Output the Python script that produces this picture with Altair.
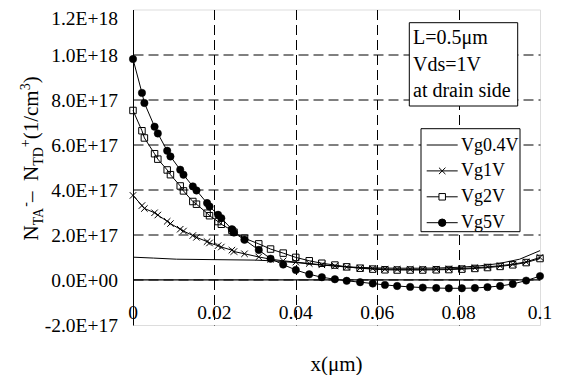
import altair as alt
import pandas as pd

FONT = "Liberation Serif"

# ---------------- data (values in units of 1E17 /cm^3) ----------------
x_grid = [0, 0.0022, 0.0028, 0.0053, 0.0061, 0.0084, 0.0092, 0.0116, 0.0124, 0.0147,
          0.0156, 0.0182, 0.0188, 0.0209, 0.0217, 0.0243, 0.0248, 0.0274, 0.0309, 0.0338,
          0.0369, 0.0400, 0.0433, 0.0464, 0.0496, 0.0525, 0.0558, 0.0589, 0.0619, 0.0649,
          0.0681, 0.0712, 0.0745, 0.0776, 0.0808, 0.0840, 0.0871, 0.0902, 0.0933, 0.0966,
          0.1000]

vg5 = [9.8, 8.3, 7.85, 6.8, 6.5, 5.73, 5.48, 4.89, 4.67, 4.15,
       3.97, 3.41, 3.26, 2.89, 2.74, 2.25, 2.10, 1.78, 1.33, 0.94,
       0.68, 0.44, 0.25, 0.12, 0.03, -0.04, -0.10, -0.16, -0.22, -0.27,
       -0.31, -0.34, -0.36, -0.37, -0.37, -0.36, -0.32, -0.27, -0.18, -0.03,
       0.17]

vg2 = [7.52, 6.62, 6.30, 5.6, 5.36, 4.88, 4.67, 4.17, 3.95, 3.48,
       3.36, 2.96, 2.85, 2.59, 2.47, 2.20, 2.12, 1.85, 1.60, 1.37,
       1.19, 1.00, 0.85, 0.74, 0.66, 0.58, 0.52, 0.48, 0.45, 0.44,
       0.44, 0.44, 0.45, 0.46, 0.48, 0.51, 0.55, 0.60, 0.67, 0.77,
       0.95]

vg1 = [3.75, 3.30, 3.17, 2.98, 2.88, 2.60, 2.50, 2.25, 2.17, 1.97,
       1.89, 1.70, 1.64, 1.52, 1.46, 1.32, 1.26, 1.16, 1.02, 0.92,
       0.85, 0.79, 0.73, 0.67, 0.62, 0.57, 0.53, 0.50, 0.48, 0.47,
       0.47, 0.47, 0.48, 0.49, 0.51, 0.54, 0.58, 0.63, 0.70, 0.80,
       1.00]

x_04 = [0, 0.005, 0.0107, 0.02, 0.03, 0.035, 0.04, 0.045, 0.05, 0.055,
        0.06, 0.065, 0.07, 0.075, 0.08, 0.085, 0.09, 0.095, 0.1]
vg04 = [1.01, 0.97, 0.92, 0.90, 0.88, 0.84, 0.77, 0.68, 0.61, 0.56,
        0.53, 0.52, 0.52, 0.53, 0.56, 0.62, 0.73, 0.92, 1.30]

series_names = ["Vg0.4V", "Vg1V", "Vg2V", "Vg5V"]

x_ticks = [0, 0.02, 0.04, 0.06, 0.08, 0.1]
x_labels = ["0", "0.02", "0.04", "0.06", "0.08", "0.1"]
y_ticks = [-2e17, 0, 2e17, 4e17, 6e17, 8e17, 1e18, 1.2e18]
y_labels = ["-2.0E+17", "0.0E+00", "2.0E+17", "4.0E+17", "6.0E+17", "8.0E+17",
            "1.0E+18", "1.2E+18"]

annotation_lines = ["L=0.5\u03bcm", "Vds=1V", "at drain side"]
x_title = "x(\u03bcm)"

# ---------------- tables ----------------
rows = []
for xv, v in zip(x_04, vg04):
    rows.append({"series": series_names[0], "x": xv, "y": v * 1e17})
for name, vals in zip(series_names[1:], [vg1, vg2, vg5]):
    for xv, v in zip(x_grid, vals):
        rows.append({"series": name, "x": xv, "y": v * 1e17})
df = pd.DataFrame(rows)

xlab_df = pd.DataFrame({"x": x_ticks, "lab": x_labels})
ylab_df = pd.DataFrame({"y": y_ticks, "lab": y_labels})

W, H = 407, 315.5

xscale = alt.Scale(domain=[0, 0.1], nice=False, zero=False)
yscale = alt.Scale(domain=[-2e17, 1.2e18], nice=False, zero=False)

x_axis = alt.Axis(
    values=x_ticks, labels=False, title=None, ticks=False, domain=False,
    grid=True, gridColor="black", gridDash=[10, 5], gridWidth=1,
    gridOpacity={"condition": {"test": "datum.value < 0.001 || datum.value > 0.099", "value": 0}, "value": 1},
)
y_axis = alt.Axis(
    values=y_ticks, labels=False, title=None, ticks=False,
    domain=True, domainColor="black", domainWidth=1,
    grid=True, gridColor="black", gridDash=[10, 5], gridWidth=1,
    gridOpacity={"condition": {"test": "datum.value < -1.9e17 || datum.value > 1.19e18", "value": 0}, "value": 1},
)

X = alt.X("x:Q", scale=xscale, axis=x_axis)
Y = alt.Y("y:Q", scale=yscale, axis=y_axis)

lines = alt.Chart(df).mark_line(color="black", strokeWidth=1).encode(
    x=X, y=Y, detail="series:N"
)

XPATH = "M-1,-1L1,1M-1,1L1,-1"

pts1 = alt.Chart(df).transform_filter(alt.datum.series == "Vg1V").mark_point(
    shape=XPATH, size=42, filled=False, stroke="black", strokeWidth=1, opacity=1
).encode(x=X, y=Y)
pts2 = alt.Chart(df).transform_filter(alt.datum.series == "Vg2V").mark_point(
    shape="square", size=42, filled=False, stroke="black", strokeWidth=1, opacity=1
).encode(x=X, y=Y)
pts5 = alt.Chart(df).transform_filter(alt.datum.series == "Vg5V").mark_point(
    shape="circle", size=55, filled=True, fill="black", stroke="black", strokeWidth=0.5, opacity=1
).encode(x=X, y=Y)

one = alt.Data(values=[{}])

zero_rule = alt.Chart(one).mark_rule(color="black", strokeWidth=1.2).encode(
    y=alt.Y(datum=0, scale=yscale, axis=y_axis))

# tick labels as text marks through the scales
xlabels = alt.Chart(xlab_df).mark_text(
    font=FONT, fontSize=19.5, align="center", baseline="middle", color="black"
).encode(x=X, y=alt.value(H - 12.5), text="lab:N")
ylabels = alt.Chart(ylab_df).transform_filter("datum.y < 1.1e18").mark_text(
    font=FONT, fontSize=19.5, align="right", baseline="middle", color="black", dy=1
).encode(x=alt.value(-15), y=Y, text="lab:N")
ylabel_top = alt.Chart(ylab_df).transform_filter("datum.y > 1.1e18").mark_text(
    font=FONT, fontSize=19.5, align="right", baseline="middle", color="black", dy=9
).encode(x=alt.value(-15), y=Y, text="lab:N")

layers = [zero_rule, lines, pts1, pts2, pts5, xlabels, ylabels, ylabel_top]

# annotation box
layers.append(alt.Chart(one).mark_rect(fill="white", stroke="black", strokeWidth=1).encode(
    x=alt.value(276.3), x2=alt.value(384.7), y=alt.value(13.2), y2=alt.value(96.5)))
for i, t in enumerate(annotation_lines):
    layers.append(alt.Chart(one).mark_text(
        text=t, font=FONT, fontSize=20, align="left", baseline="middle", color="black"
    ).encode(x=alt.value(280), y=alt.value(28.5 + 26.5 * i)))

# legend box
layers.append(alt.Chart(one).mark_rect(fill="white", stroke="black", strokeWidth=1).encode(
    x=alt.value(288), x2=alt.value(387), y=alt.value(119.2), y2=alt.value(222.2)))
leg_y = [135.5, 161.4, 187.3, 213.2]
leg_marks = [None, (XPATH, 42, False), ("square", 42, False), ("circle", 55, True)]
for name, yy, mk in zip(series_names, leg_y, leg_marks):
    layers.append(alt.Chart(one).mark_rule(color="black", strokeWidth=1).encode(
        x=alt.value(293.7), x2=alt.value(324.7), y=alt.value(yy)))
    if mk is not None:
        shp, sz, fil = mk
        layers.append(alt.Chart(one).mark_point(
            shape=shp, size=sz, filled=fil, fill="black" if fil else "white",
            stroke="black", strokeWidth=1, opacity=1
        ).encode(x=alt.value(309.2), y=alt.value(yy)))
    layers.append(alt.Chart(one).mark_text(
        text=name, font=FONT, fontSize=18, align="left", baseline="middle", color="black"
    ).encode(x=alt.value(328), y=alt.value(yy + 0.5)))

# x title
layers.append(alt.Chart(one).mark_text(
    text=x_title, font=FONT, fontSize=21, align="center", baseline="middle", color="black"
).encode(x=alt.value(W / 2), y=alt.value(355.5)))

# y title built from pieces (rotated)
em = {"N": .722, "T": .611, "A": .722, "D": .722, "-": .333, "\u2013": .5, " ": .25,
      "+": .564, "(": .333, "1": .5, "/": .278, "c": .444, "m": .778, "3": .5, ")": .333}
pieces = [("N", "main"), ("TA", "sub"), ("-", "sup"), (" \u2013 ", "main"), ("N", "main"),
          ("TD", "sub"), ("+", "sup"), ("(1/cm", "main"), ("3", "sup"), (")", "main")]
sizes = {"main": 21, "sub": 14, "sup": 14}
xpos = {"main": -95, "sub": -90, "sup": -103}
ycur = 231
for txt, kind in pieces:
    fs = sizes[kind]
    layers.append(alt.Chart(one).mark_text(
        text=txt, font=FONT, fontSize=fs, align="left", baseline="alphabetic",
        angle=270, color="black"
    ).encode(x=alt.value(xpos[kind]), y=alt.value(ycur)))
    ycur -= sum(em.get(ch, .5) for ch in txt) * fs

chart = alt.layer(*layers).properties(
    width=W, height=H,
    autosize=alt.AutoSizeParams(type="none"),
    padding={"left": 125, "top": 1.5, "right": 20, "bottom": 50},
).configure_view(
    fill="#c0c0c0", stroke="#707070", strokeDash=[10, 5], strokeWidth=1
).configure(background="white")

chart.save("out.html", embed_options={"renderer": "svg", "actions": False})
